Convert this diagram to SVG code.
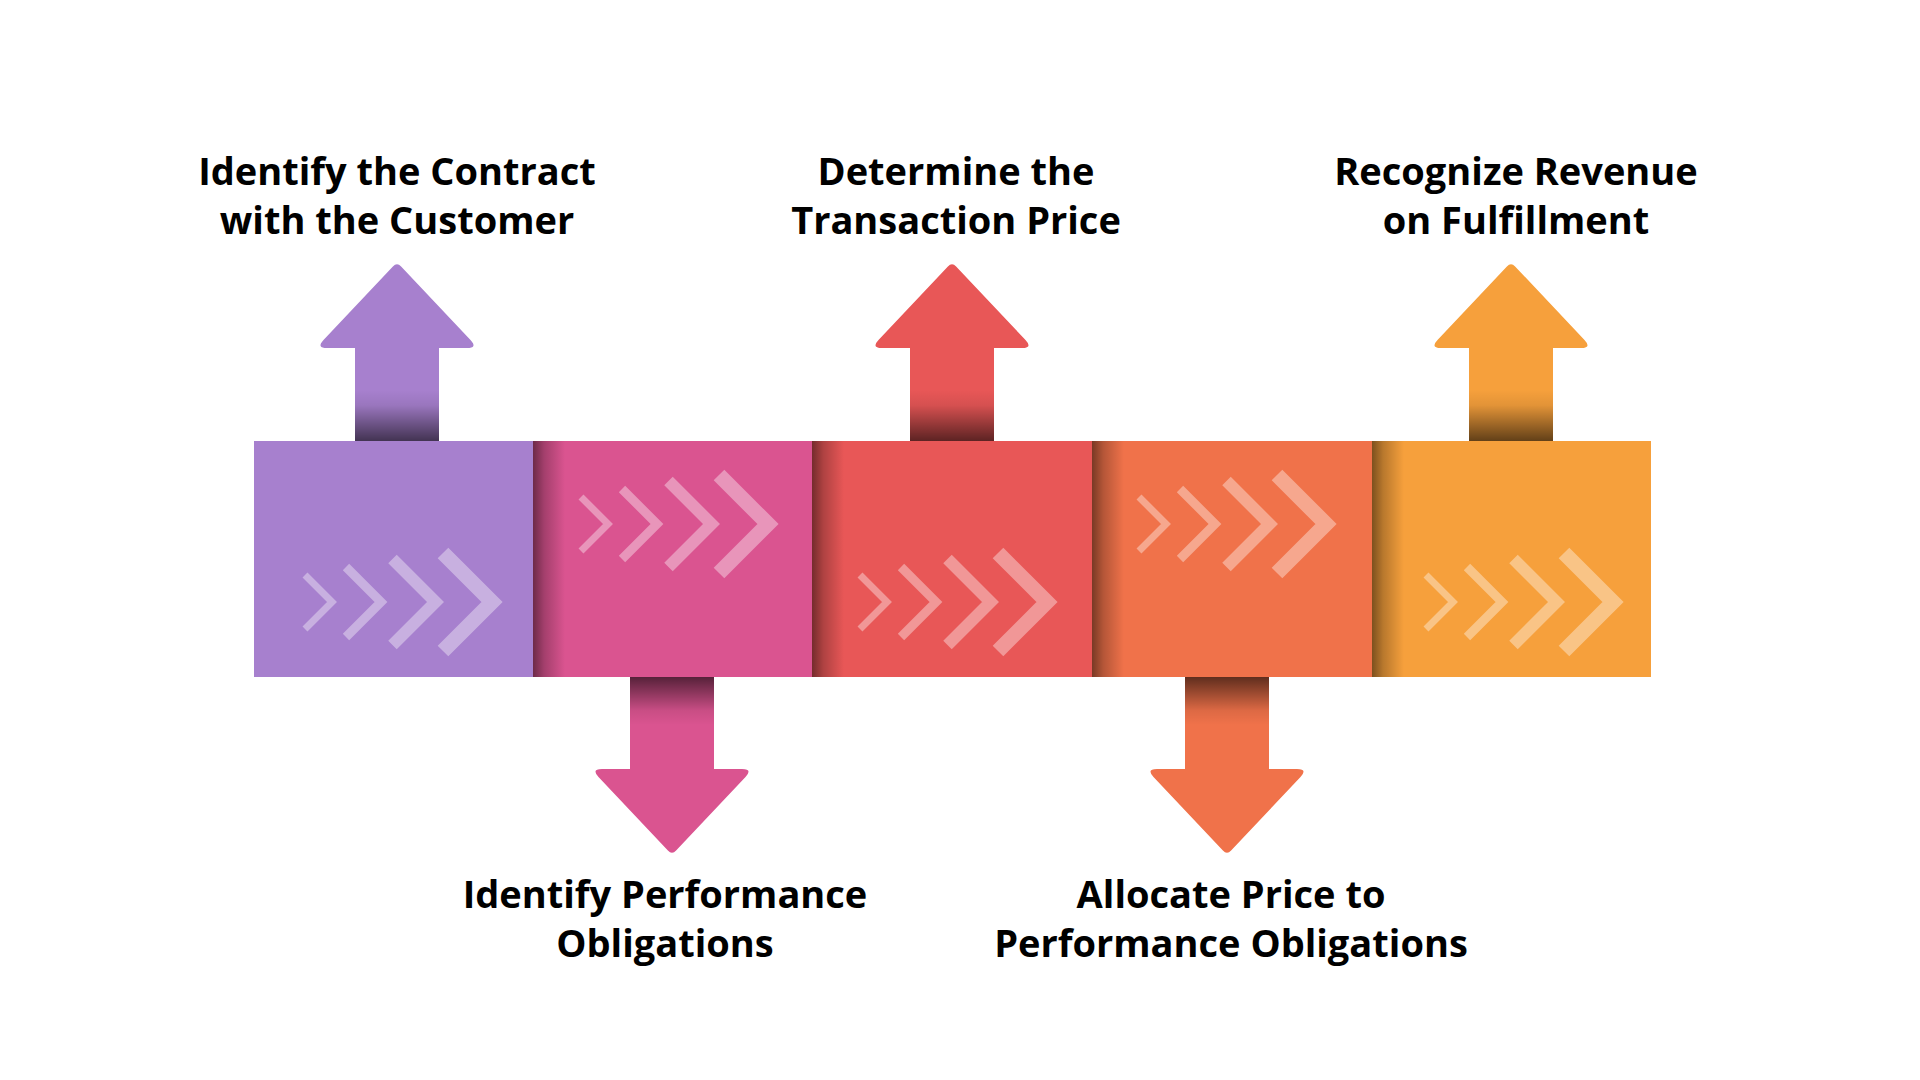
<svg xmlns="http://www.w3.org/2000/svg" width="1920" height="1080" viewBox="0 0 1920 1080">
<defs>
<style>
.lbl{font-family:"Open Sans","Noto Sans","Liberation Sans",sans-serif;font-weight:700;font-size:38px;fill:#000;text-anchor:middle}
.chev{fill:none;stroke:#fff;stroke-opacity:0.38;stroke-linecap:butt;stroke-linejoin:miter}
</style>
<linearGradient id="sideShade" x1="0" y1="0" x2="1" y2="0">
<stop offset="0" stop-color="#000" stop-opacity="0.5"/>
<stop offset="0.35" stop-color="#000" stop-opacity="0.25"/>
<stop offset="1" stop-color="#000" stop-opacity="0"/>
</linearGradient>
<linearGradient id="upShade" x1="0" y1="0" x2="0" y2="1">
<stop offset="0" stop-color="#000" stop-opacity="0"/>
<stop offset="0.3" stop-color="#000" stop-opacity="0.08"/>
<stop offset="1" stop-color="#000" stop-opacity="0.6"/>
</linearGradient>
<linearGradient id="downShade" x1="0" y1="1" x2="0" y2="0">
<stop offset="0" stop-color="#000" stop-opacity="0"/>
<stop offset="0.3" stop-color="#000" stop-opacity="0.08"/>
<stop offset="1" stop-color="#000" stop-opacity="0.6"/>
</linearGradient>
<g id="chevrons">
<polyline class="chev" stroke-width="7" points="51,-27 78,0 51,27"/>
<polyline class="chev" stroke-width="9" points="92,-35 127,0 92,35"/>
<polyline class="chev" stroke-width="12" points="138.5,-43 181.5,0 138.5,43"/>
<polyline class="chev" stroke-width="15" points="189,-49 238,0 189,49"/>
</g>
<path id="upArrow" d="M-42,93 L-42,0 L-70,0 Q-81,0 -73.5,-8 L-4.1,-81.6 Q0,-86 4.1,-81.6 L73.5,-8 Q81,0 70,0 L42,0 L42,93 Z"/>
<path id="downArrow" d="M-42,-92 L-42,0 L-70,0 Q-81,0 -73.5,8 L-4.1,81.6 Q0,86 4.1,81.6 L73.5,8 Q81,0 70,0 L42,0 L42,-92 Z"/>
</defs>
<rect x="0" y="0" width="1920" height="1080" fill="#fff"/>

<g id="connectors">
<g id="arrow-1">
<use href="#upArrow" x="397" y="348" fill="#A780CE"/>
<rect x="355" y="390" width="84" height="51" fill="url(#upShade)"/>
</g>
<g id="arrow-2">
<use href="#downArrow" x="672" y="769" fill="#DA5490"/>
<rect x="630" y="677" width="84" height="48" fill="url(#downShade)"/>
</g>
<g id="arrow-3">
<use href="#upArrow" x="952" y="348" fill="#E85757"/>
<rect x="910" y="390" width="84" height="51" fill="url(#upShade)"/>
</g>
<g id="arrow-4">
<use href="#downArrow" x="1227" y="769" fill="#F0724A"/>
<rect x="1185" y="677" width="84" height="48" fill="url(#downShade)"/>
</g>
<g id="arrow-5">
<use href="#upArrow" x="1511" y="348" fill="#F6A03C"/>
<rect x="1469" y="390" width="84" height="51" fill="url(#upShade)"/>
</g>
</g>

<g id="step-1">
<rect x="254" y="441" width="280" height="236" fill="#A780CE"/>
<use href="#chevrons" transform="translate(254,602)"/>
</g>
<g id="step-2">
<rect x="533" y="441" width="280" height="236" fill="#DA5490"/>
<rect x="533" y="441" width="32" height="236" fill="url(#sideShade)"/>
<use href="#chevrons" transform="translate(530,524)"/>
</g>
<g id="step-3">
<rect x="812" y="441" width="281" height="236" fill="#E85757"/>
<rect x="812" y="441" width="32" height="236" fill="url(#sideShade)"/>
<use href="#chevrons" transform="translate(809,602)"/>
</g>
<g id="step-4">
<rect x="1092" y="441" width="281" height="236" fill="#F0724A"/>
<rect x="1092" y="441" width="32" height="236" fill="url(#sideShade)"/>
<use href="#chevrons" transform="translate(1088,524)"/>
</g>
<g id="step-5">
<rect x="1372" y="441" width="279" height="236" fill="#F6A03C"/>
<rect x="1372" y="441" width="32" height="236" fill="url(#sideShade)"/>
<use href="#chevrons" transform="translate(1375,602)"/>
</g>

<g id="label-1">
<text class="lbl" x="397" y="185">Identify the Contract</text>
<text class="lbl" x="397" y="234">with the Customer</text>
</g>
<g id="label-2">
<text class="lbl" x="665" y="908">Identify Performance</text>
<text class="lbl" x="665" y="957">Obligations</text>
</g>
<g id="label-3">
<text class="lbl" x="956" y="185">Determine the</text>
<text class="lbl" x="956" y="234">Transaction Price</text>
</g>
<g id="label-4">
<text class="lbl" x="1231" y="908">Allocate Price to</text>
<text class="lbl" x="1231" y="957">Performance Obligations</text>
</g>
<g id="label-5">
<text class="lbl" x="1516" y="185">Recognize Revenue</text>
<text class="lbl" x="1516" y="234">on Fulfillment</text>
</g>
</svg>
